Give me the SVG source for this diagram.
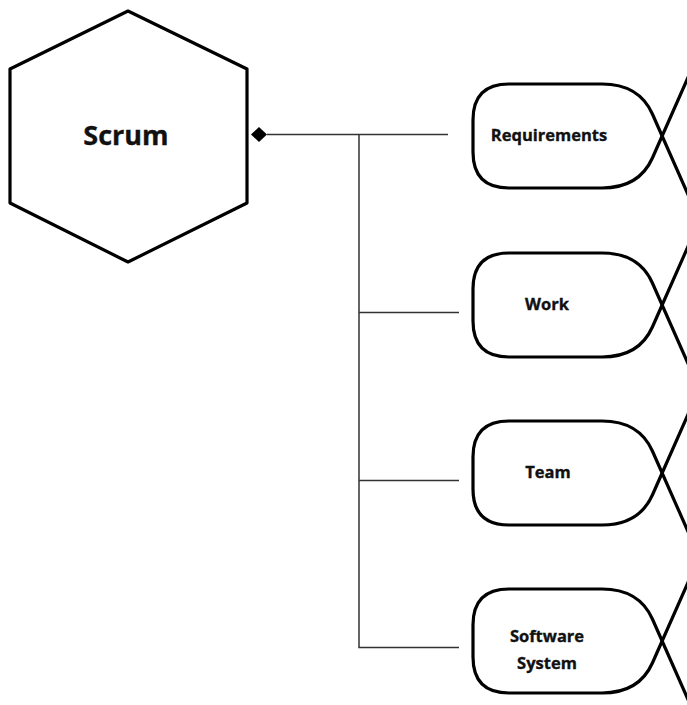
<svg xmlns="http://www.w3.org/2000/svg" width="687" height="705" viewBox="0 0 687 705">
<style>
.shape{fill:none;stroke:#000;stroke-width:3.2;stroke-linejoin:round}
.fill{fill:#fff;stroke:none}
.lbl{font-family:"Open Sans","DejaVu Sans",sans-serif;font-weight:bold;fill:#111;stroke:#111;stroke-width:0.35;text-anchor:middle}
.conn{fill:none;stroke:#333;stroke-width:1.5}
</style>
<defs>
<g id="proc">
<path class="fill" d="M509 0 H602 Q639 0 652.4 30 L662 52 L652.4 74 Q639 104 602 104 H509 Q473 104 473 68 V36 Q473 0 509 0 Z"/>
<path class="shape" d="M602 0 H509 Q473 0 473 36 V68 Q473 104 509 104 H602"/>
<path class="shape" d="M602 0 Q639 0 652.4 30 L690 115"/>
<path class="shape" d="M602 104 Q639 104 652.4 74 L690 -11"/>
</g>
</defs>
<g id="connectors">
<path class="conn" d="M267 134.5 H448"/>
<path class="conn" d="M359 134.5 V647.5 H459"/>
<path class="conn" d="M359 312.5 H459"/>
<path class="conn" d="M359 480.5 H459"/>
<polygon points="251,134.5 259,127 267,134.5 259,142" fill="#000"/>
</g>
<g id="scrum">
<polygon class="shape" points="128,11 247,69 247,203 128,262 10,203 10,69" style="fill:#fff"/>
<text class="lbl" x="126" y="145" font-size="27">Scrum</text>
</g>
<g id="requirements" transform="translate(0,84)">
<use href="#proc"/>
<text class="lbl" x="549" y="57" font-size="16.5">Requirements</text>
</g>
<g id="work" transform="translate(0,253)">
<use href="#proc"/>
<text class="lbl" x="547" y="57" font-size="16.5">Work</text>
</g>
<g id="team" transform="translate(0,421)">
<use href="#proc"/>
<text class="lbl" x="548" y="57" font-size="16.5">Team</text>
</g>
<g id="software" transform="translate(0,589)">
<use href="#proc"/>
<text class="lbl" x="547" y="53" font-size="16.5">Software</text>
<text class="lbl" x="547" y="80" font-size="16.5">System</text>
</g>
</svg>
